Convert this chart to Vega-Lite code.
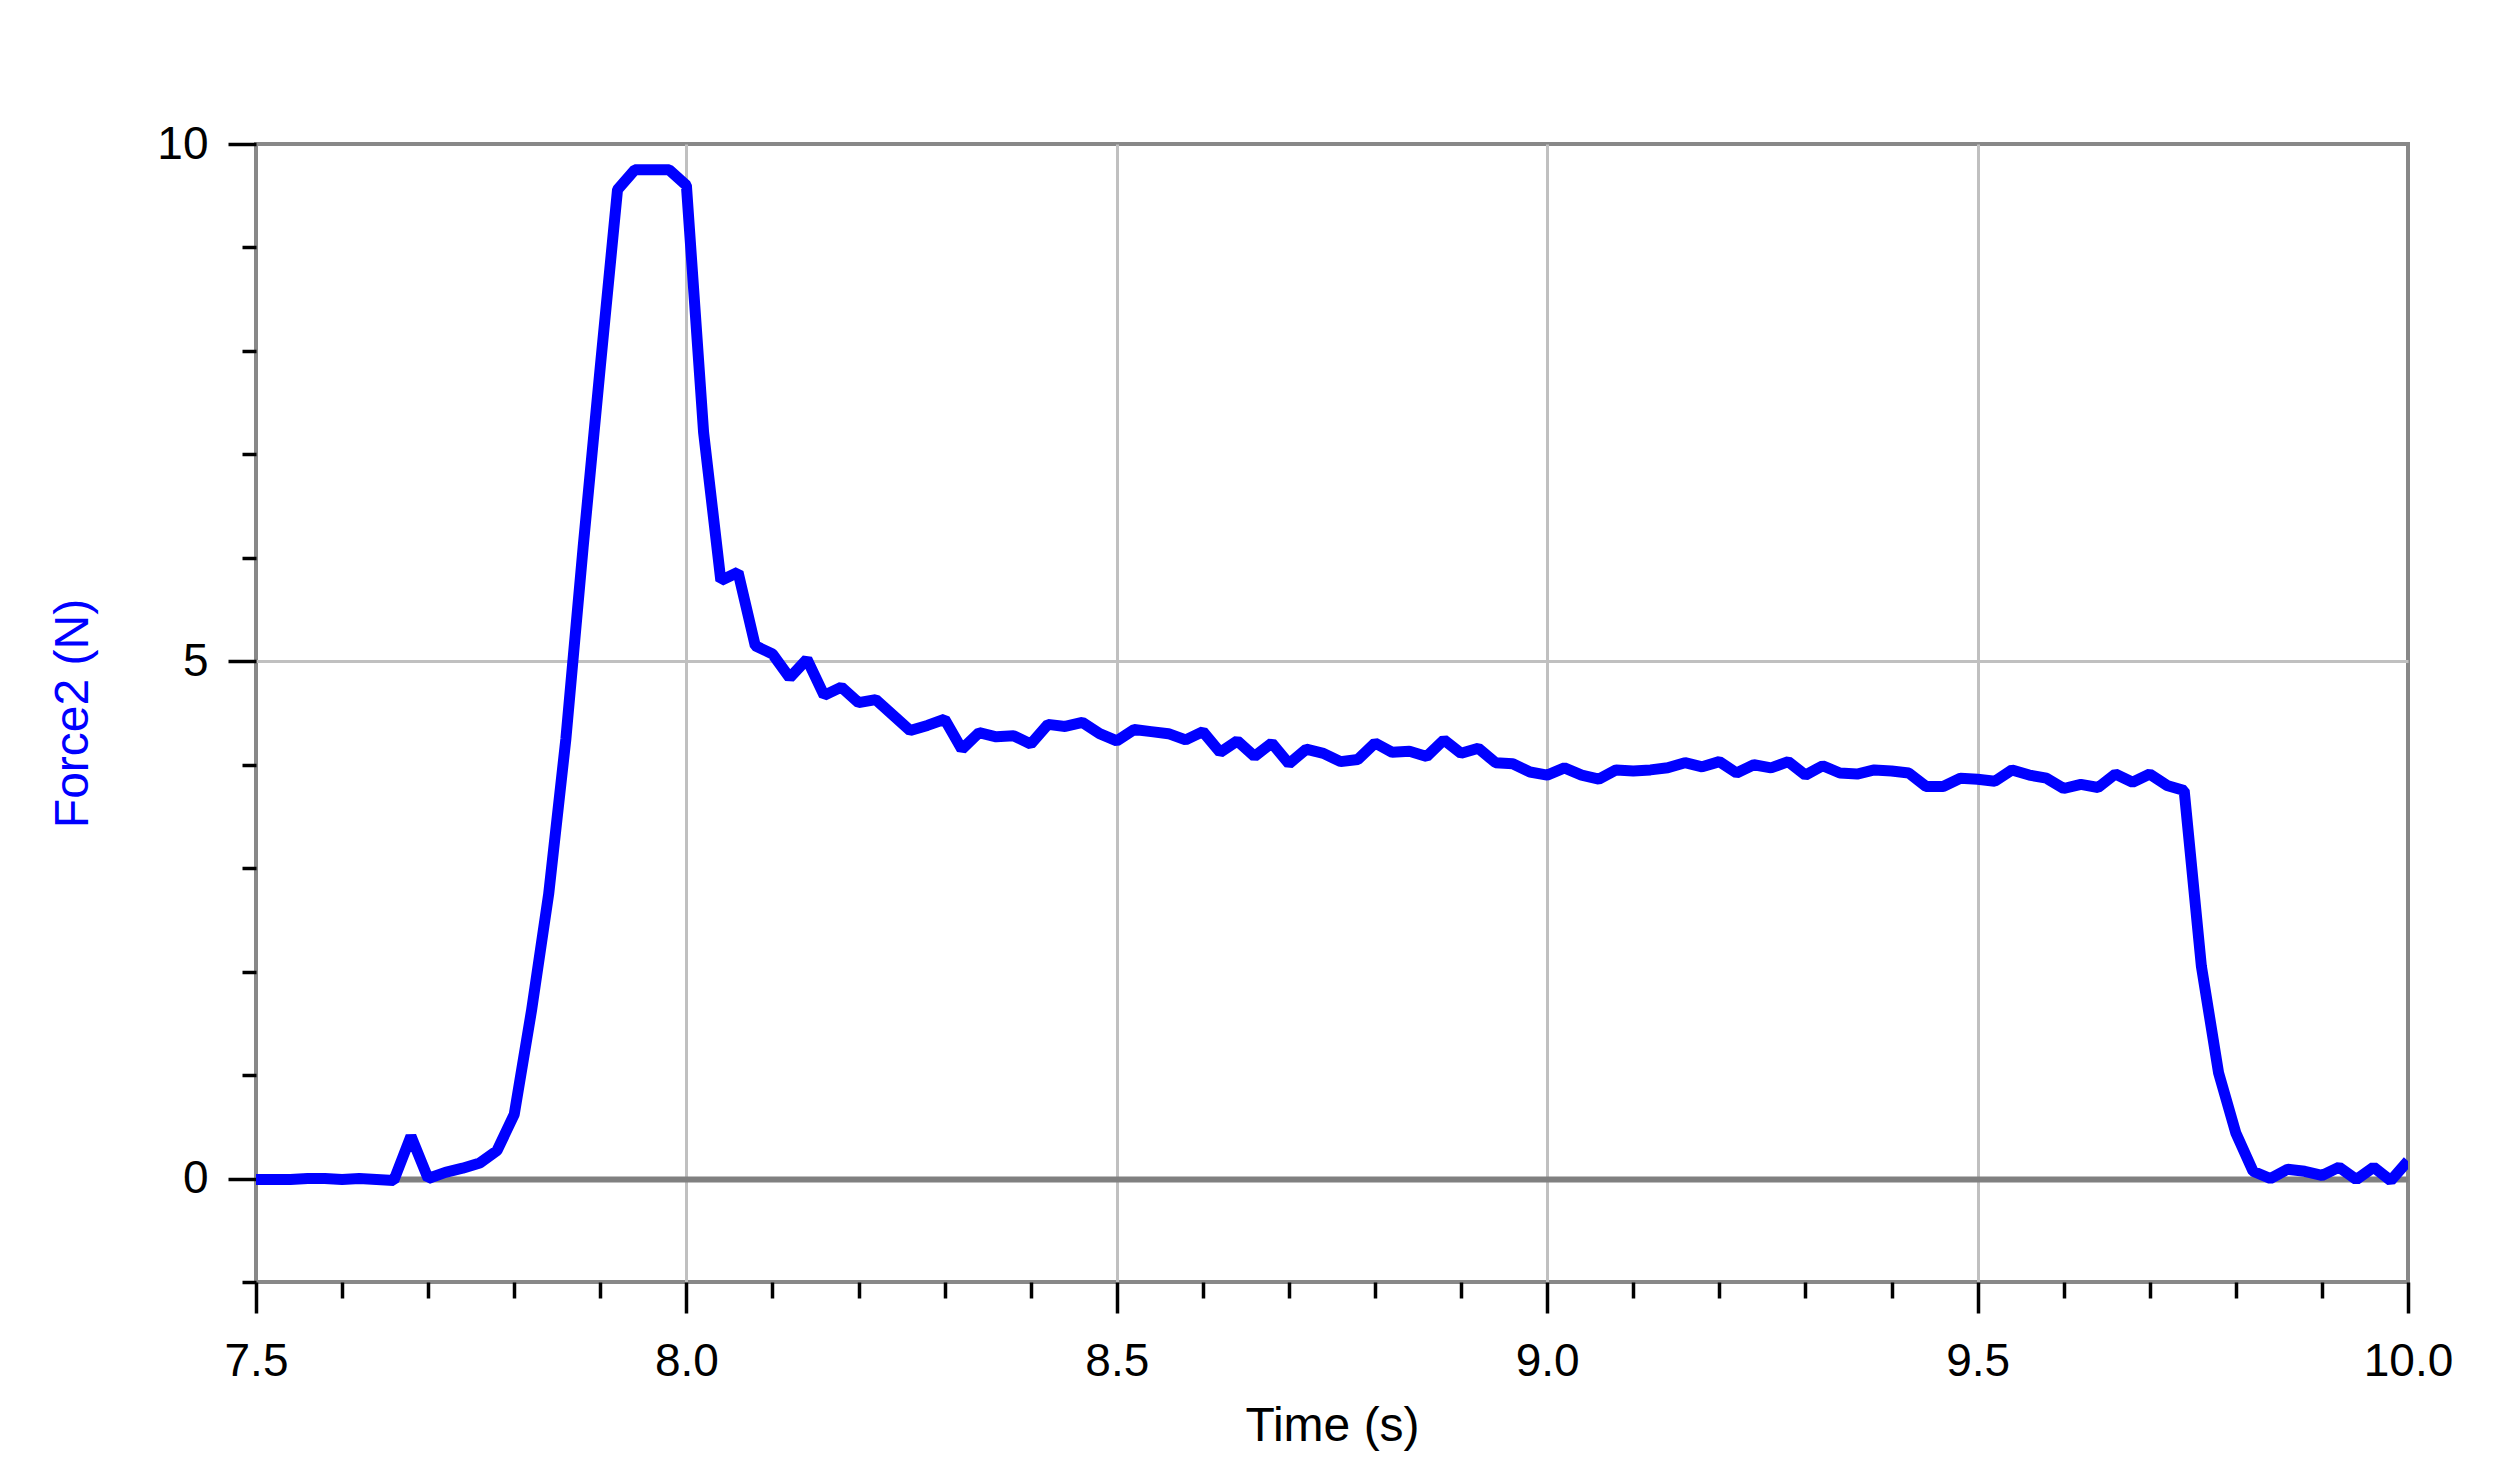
{
  "$schema": "https://vega.github.io/schema/vega-lite/v6.json",
  "autosize": {"type": "none"},
  "padding": {"left": 256, "top": 144, "right": 104, "bottom": 198},
  "width": 2152,
  "height": 1138,
  "background": "white",
  "config": {
    "view": {"stroke": "#888888", "strokeWidth": 4},
    "font": "Liberation Sans"
  },
  "data": {
    "values": [
      {"t": 7.50, "F": -0.01}, {"t": 7.52, "F": -0.01}, {"t": 7.54, "F": -0.01}, {"t": 7.56, "F": 0.0},
      {"t": 7.58, "F": 0.0}, {"t": 7.60, "F": -0.01}, {"t": 7.62, "F": 0.0}, {"t": 7.64, "F": -0.01},
      {"t": 7.66, "F": -0.02}, {"t": 7.68, "F": 0.41}, {"t": 7.70, "F": 0.0}, {"t": 7.72, "F": 0.06},
      {"t": 7.74, "F": 0.1}, {"t": 7.76, "F": 0.15}, {"t": 7.78, "F": 0.27}, {"t": 7.80, "F": 0.62},
      {"t": 7.82, "F": 1.62}, {"t": 7.84, "F": 2.75}, {"t": 7.86, "F": 4.25}, {"t": 7.88, "F": 6.1},
      {"t": 7.90, "F": 7.85}, {"t": 7.92, "F": 9.56}, {"t": 7.94, "F": 9.75}, {"t": 7.96, "F": 9.75},
      {"t": 7.98, "F": 9.75}, {"t": 8.00, "F": 9.6}, {"t": 8.02, "F": 7.21}, {"t": 8.04, "F": 5.78},
      {"t": 8.06, "F": 5.86}, {"t": 8.08, "F": 5.15}, {"t": 8.10, "F": 5.07}, {"t": 8.12, "F": 4.84},
      {"t": 8.14, "F": 5.02}, {"t": 8.16, "F": 4.67}, {"t": 8.18, "F": 4.75}, {"t": 8.20, "F": 4.6},
      {"t": 8.22, "F": 4.63}, {"t": 8.24, "F": 4.48}, {"t": 8.26, "F": 4.33}, {"t": 8.28, "F": 4.38},
      {"t": 8.30, "F": 4.44}, {"t": 8.32, "F": 4.15}, {"t": 8.34, "F": 4.31}, {"t": 8.36, "F": 4.27},
      {"t": 8.38, "F": 4.28}, {"t": 8.40, "F": 4.2}, {"t": 8.42, "F": 4.39}, {"t": 8.44, "F": 4.37},
      {"t": 8.46, "F": 4.41}, {"t": 8.48, "F": 4.3}, {"t": 8.50, "F": 4.23}, {"t": 8.52, "F": 4.34},
      {"t": 8.54, "F": 4.32}, {"t": 8.56, "F": 4.3}, {"t": 8.58, "F": 4.24}, {"t": 8.60, "F": 4.32},
      {"t": 8.62, "F": 4.12}, {"t": 8.64, "F": 4.23}, {"t": 8.66, "F": 4.08}, {"t": 8.68, "F": 4.21},
      {"t": 8.70, "F": 4.01}, {"t": 8.72, "F": 4.15}, {"t": 8.74, "F": 4.11}, {"t": 8.76, "F": 4.03},
      {"t": 8.78, "F": 4.05}, {"t": 8.80, "F": 4.21}, {"t": 8.82, "F": 4.12}, {"t": 8.84, "F": 4.13},
      {"t": 8.86, "F": 4.08}, {"t": 8.88, "F": 4.24}, {"t": 8.90, "F": 4.11}, {"t": 8.92, "F": 4.16},
      {"t": 8.94, "F": 4.02}, {"t": 8.96, "F": 4.01}, {"t": 8.98, "F": 3.93}, {"t": 9.00, "F": 3.9},
      {"t": 9.02, "F": 3.97}, {"t": 9.04, "F": 3.9}, {"t": 9.06, "F": 3.86}, {"t": 9.08, "F": 3.95},
      {"t": 9.10, "F": 3.94}, {"t": 9.12, "F": 3.95}, {"t": 9.14, "F": 3.97}, {"t": 9.16, "F": 4.02},
      {"t": 9.18, "F": 3.98}, {"t": 9.20, "F": 4.03}, {"t": 9.22, "F": 3.92}, {"t": 9.24, "F": 4.0},
      {"t": 9.26, "F": 3.97}, {"t": 9.28, "F": 4.03}, {"t": 9.30, "F": 3.9}, {"t": 9.32, "F": 3.99},
      {"t": 9.34, "F": 3.92}, {"t": 9.36, "F": 3.91}, {"t": 9.38, "F": 3.95}, {"t": 9.40, "F": 3.94},
      {"t": 9.42, "F": 3.92}, {"t": 9.44, "F": 3.79}, {"t": 9.46, "F": 3.79}, {"t": 9.48, "F": 3.87},
      {"t": 9.50, "F": 3.86}, {"t": 9.52, "F": 3.84}, {"t": 9.54, "F": 3.95}, {"t": 9.56, "F": 3.9},
      {"t": 9.58, "F": 3.87}, {"t": 9.60, "F": 3.77}, {"t": 9.62, "F": 3.81}, {"t": 9.64, "F": 3.78},
      {"t": 9.66, "F": 3.91}, {"t": 9.68, "F": 3.83}, {"t": 9.70, "F": 3.91}, {"t": 9.72, "F": 3.8},
      {"t": 9.74, "F": 3.75}, {"t": 9.76, "F": 2.05}, {"t": 9.78, "F": 1.02}, {"t": 9.80, "F": 0.44},
      {"t": 9.82, "F": 0.07}, {"t": 9.84, "F": 0.0}, {"t": 9.86, "F": 0.09}, {"t": 9.88, "F": 0.07},
      {"t": 9.90, "F": 0.03}, {"t": 9.92, "F": 0.11}, {"t": 9.94, "F": -0.01}, {"t": 9.96, "F": 0.11},
      {"t": 9.98, "F": -0.02}, {"t": 10.00, "F": 0.17}
    ]
  },
  "mark": {"type": "line", "color": "#0000ff", "strokeWidth": 11, "strokeJoin": "bevel", "clip": true},
  "encoding": {
    "x": {
      "field": "t",
      "type": "quantitative",
      "scale": {"domain": [7.5, 10], "nice": false, "zero": false},
      "axis": {
        "orient": "bottom",
        "values": [7.5, 7.6, 7.7, 7.8, 7.9, 8, 8.1, 8.2, 8.3, 8.4, 8.5, 8.6, 8.7, 8.8, 8.9, 9, 9.1, 9.2, 9.3, 9.4, 9.5, 9.6, 9.7, 9.8, 9.9, 10],
        "domain": false,
        "labelExpr": "abs(datum.value*2-round(datum.value*2))<0.001 ? format(datum.value,'.1f') : ''",
        "labelFont": "Liberation Sans",
        "labelFontSize": 46,
        "labelColor": "black",
        "labelPadding": 26,
        "labelOverlap": false,
        "labelFlush": false,
        "tickColor": "black",
        "tickWidth": 3.5,
        "tickSize": {"condition": {"test": "abs(datum.value*2-round(datum.value*2))<0.001", "value": 31}, "value": 16},
        "grid": true,
        "gridColor": "#c0c0c0",
        "gridWidth": 3,
        "gridOpacity": {"condition": {"test": "abs(datum.value*2-round(datum.value*2))<0.001 && datum.value>7.6 && datum.value<9.9", "value": 1}, "value": 0},
        "title": "Time (s)",
        "titleFont": "Liberation Sans",
        "titleFontSize": 48,
        "titleFontWeight": "normal",
        "titleColor": "black",
        "titlePadding": 18
      }
    },
    "y": {
      "field": "F",
      "type": "quantitative",
      "scale": {"domain": [-1, 10], "nice": false, "zero": false},
      "axis": {
        "orient": "left",
        "values": [-1, 0, 1, 2, 3, 4, 5, 6, 7, 8, 9, 10],
        "domain": false,
        "labelExpr": "datum.value % 5 === 0 ? format(datum.value,'d') : ''",
        "labelFont": "Liberation Sans",
        "labelFontSize": 46,
        "labelColor": "black",
        "labelPadding": 20,
        "labelOverlap": false,
        "labelFlush": false,
        "tickColor": "black",
        "tickWidth": 3.5,
        "tickSize": {"condition": {"test": "datum.value % 5 === 0", "value": 28}, "value": 14},
        "grid": true,
        "gridColor": {"condition": {"test": "datum.value === 0", "value": "#808080"}, "value": "#c0c0c0"},
        "gridWidth": {"condition": {"test": "datum.value === 0", "value": 6}, "value": 3},
        "gridOpacity": {"condition": {"test": "datum.value === 0 || datum.value === 5", "value": 1}, "value": 0},
        "title": "Force2 (N)",
        "titleFont": "Liberation Sans",
        "titleFontSize": 48,
        "titleFontWeight": "normal",
        "titleColor": "#0000ff",
        "titlePadding": 59
      }
    }
  }
}
